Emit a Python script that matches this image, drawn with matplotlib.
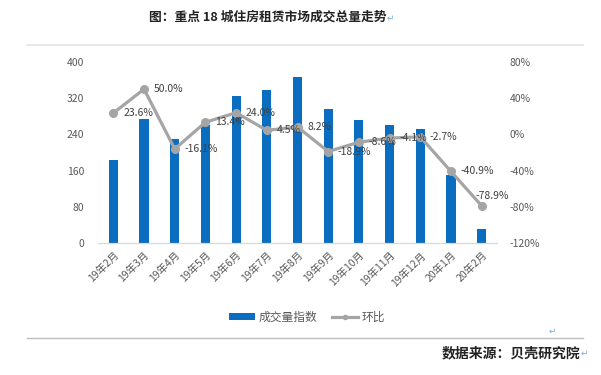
import matplotlib
matplotlib.use("Agg")
import matplotlib.pyplot as plt
from matplotlib.lines import Line2D
from matplotlib.patches import Patch

plt.rcParams['font.family'] = ['Noto Sans CJK SC', 'DejaVu Sans']

categories = ["19年2月", "19年3月", "19年4月", "19年5月", "19年6月", "19年7月", "19年8月",
              "19年9月", "19年10月", "19年11月", "19年12月", "20年1月", "20年2月"]
volume_index = [183, 274, 230, 261, 324, 338, 366, 297, 271, 260, 253, 150, 32]
mom_change = [23.6, 50.0, -16.1, 13.4, 24.0, 4.5, 8.2, -18.9, -8.6, -4.1, -2.7, -40.9, -78.9]
left_ticks = [0, 80, 160, 240, 320, 400]
right_ticks = [-120, -80, -40, 0, 40, 80]

title = "图：重点 18 城住房租赁市场成交总量走势"
source = "数据来源：贝壳研究院"
bar_label = "成交量指数"
line_label = "环比"

BLUE = "#0a6dbf"
GRAY = "#a5a5a5"
TXT = "#404040"
TICK = "#595959"

W, H = 601, 375
fig = plt.figure(figsize=(W / 100, H / 100), dpi=100)
ax = fig.add_axes([98 / W, 1 - 243 / H, (497 - 98) / W, (243 - 62) / H])
ax2 = ax.twinx()

x = list(range(len(categories)))
ax.bar(x, volume_index, width=0.3, color=BLUE, zorder=2)
ax.set_xlim(-0.5, len(categories) - 0.5)
ax.set_ylim(0, 400)
ax.set_yticks(left_ticks)
ax.set_yticklabels([str(v) for v in left_ticks])
ax.set_xticks(x)
ax.set_xticklabels(categories, rotation=45, ha='right', rotation_mode='anchor')

ax2.plot(x, mom_change, color=GRAY, lw=2.3, marker='o', ms=5.5, zorder=3)
ax2.set_ylim(-120, 80)
ax2.set_yticks(right_ticks)
ax2.set_yticklabels([f"{v}%" for v in right_ticks])
n = len(mom_change)
for i, (xi, v) in enumerate(zip(x, mom_change)):
    if i == n - 1:
        ax2.annotate(f"{v:.1f}%", (xi, v), xytext=(8, 7), textcoords='offset points',
                     ha='center', va='center', fontsize=7.5, color=TXT)
    else:
        ax2.annotate(f"{v:.1f}%", (xi, v), xytext=(7, 0), textcoords='offset points',
                     ha='left', va='center', fontsize=7.5, color=TXT)

for a in (ax, ax2):
    for s in ('top', 'left', 'right'):
        a.spines[s].set_visible(False)
    a.spines['bottom'].set_color('#d9d9d9')
    a.tick_params(length=0, labelsize=7.5, colors=TICK)
ax.tick_params(axis='y', pad=10)
ax2.tick_params(axis='y', pad=9)
ax.tick_params(axis='x', pad=5)

handles = [Patch(facecolor=BLUE, edgecolor='none'),
           Line2D([0], [0], color=GRAY, lw=2.3, marker='o', ms=3)]
leg = fig.legend(handles, [bar_label, line_label], loc='center',
                 bbox_to_anchor=(307 / W, 1 - 317 / H), ncol=2, frameon=False,
                 fontsize=8.5, handlelength=2.2, handleheight=0.5,
                 handletextpad=0.3, columnspacing=1.2)
for t in leg.get_texts():
    t.set_color(TICK)

# title and decoration
fig.text(268 / W, 1 - 17 / H, title, ha='center', va='center', fontsize=9.2,
         fontweight='bold', color='#222222')
fig.text(387 / W, 1 - 18 / H, "↵", ha='left', va='center', fontsize=6.5,
         color='#7aaee0', family=['DejaVu Sans'])
fig.add_artist(Line2D([27 / W, 583 / W], [1 - 45 / H, 1 - 45 / H], color='#e3e3e3', lw=1.2))
fig.add_artist(Line2D([27 / W, 583 / W], [1 - 338 / H, 1 - 338 / H], color='#bdbdbd', lw=1.0))
fig.text(552 / W, 1 - 331 / H, "↵", ha='center', va='center', fontsize=6.5,
         color='#7aaee0', family=['DejaVu Sans'])
fig.text(580 / W, 1 - 353 / H, source, ha='right', va='center', fontsize=10,
         fontweight='bold', color='#222222')
fig.text(581 / W, 1 - 353 / H, "↵", ha='left', va='center', fontsize=6.5,
         color='#7aaee0', family=['DejaVu Sans'])

fig.savefig("out.png", dpi=100)
